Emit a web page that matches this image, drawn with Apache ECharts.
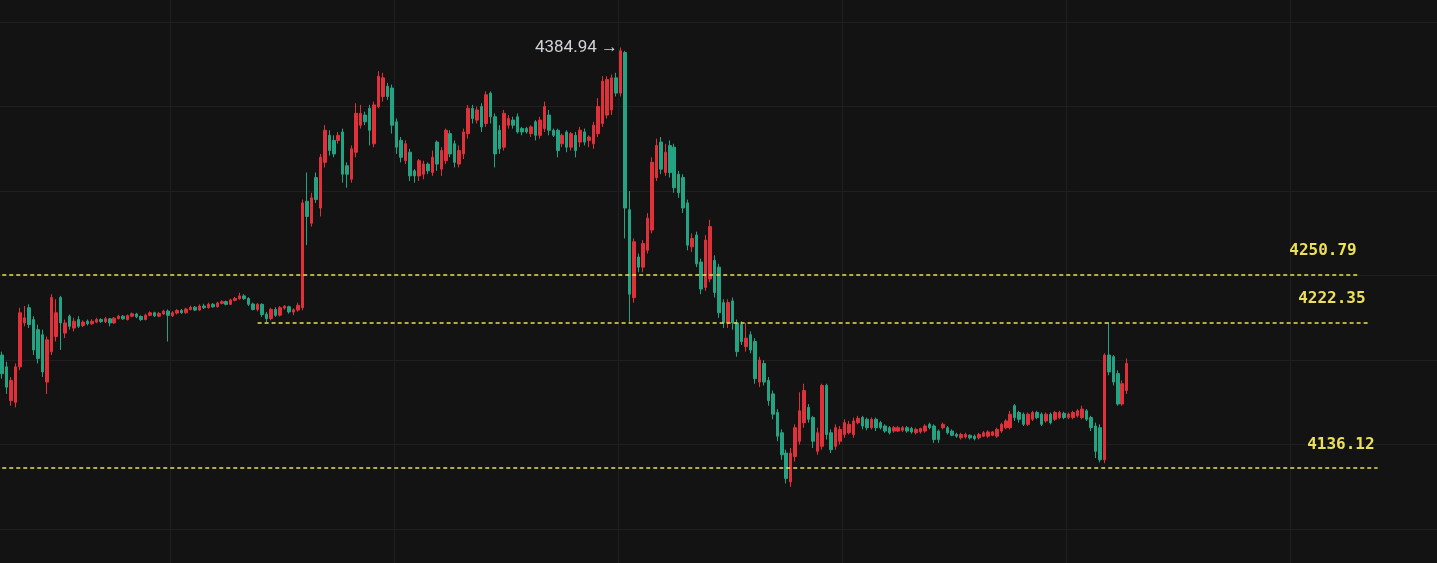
<!DOCTYPE html>
<html>
<head>
<meta charset="utf-8">
<style>
  html, body { margin: 0; padding: 0; background: #131313; }
  #chart { width: 1437px; height: 563px; }
</style>
<script src="https://cdn.jsdelivr.net/npm/echarts@6/dist/echarts.min.js"></script>
</head>
<body>
<div id="chart"></div>
<script>
// candles as [open, close, low, high]
const earlyChop = [
  [4203, 4192, 4189, 4205], [4196, 4184, 4180, 4199], [4176, 4188, 4173, 4190],
  [4175, 4196, 4172, 4198], [4196, 4228, 4194, 4231], [4222, 4225, 4220, 4232],
  [4231, 4221, 4219, 4233], [4224, 4206, 4203, 4226], [4218, 4201, 4198, 4221],
  [4215, 4193, 4190, 4218], [4187, 4212, 4180, 4214], [4205, 4237, 4203, 4239],
  [4214, 4228, 4211, 4236], [4237, 4222, 4206, 4238], [4216, 4222, 4213, 4224],
  [4226, 4220, 4218, 4227], [4219, 4223, 4217, 4225], [4224, 4220, 4219, 4226]
];
const drift = [
  [4220.5, 4222.5, 4219.5, 4223.5], [4223, 4221.5, 4220.5, 4224], [4221.5, 4223, 4220.8, 4224.2],
  [4222.5, 4224, 4221.8, 4225], [4224, 4222.8, 4222, 4224.8], [4222.6, 4224.5, 4222, 4225.6],
  [4224.4, 4222, 4220, 4225], [4222, 4224.8, 4221.5, 4225.5], [4224.6, 4226, 4224, 4226.8],
  [4226, 4224.4, 4223.8, 4226.6], [4224, 4226.3, 4223.4, 4227], [4226, 4227.4, 4225.4, 4228.2],
  [4227.3, 4225.6, 4224.8, 4228], [4225.8, 4224, 4223, 4226.5], [4224, 4226.6, 4223.5, 4227.5],
  [4226.5, 4228, 4226, 4228.8], [4228, 4226.2, 4225.5, 4228.6], [4226, 4227.6, 4225.4, 4228.5],
  [4227.3, 4229, 4226.7, 4229.8], [4229, 4226.5, 4211, 4230], [4226.2, 4228, 4225.5, 4229],
  [4227.8, 4229.4, 4227, 4230.2], [4229.4, 4228, 4227.4, 4230.3], [4228, 4230.2, 4227.5, 4231],
  [4230, 4231.2, 4229.4, 4232.2], [4231.3, 4229.6, 4229, 4232], [4229.6, 4232, 4229, 4233],
  [4232, 4231, 4230.2, 4233.3], [4231, 4233, 4230.4, 4234], [4233, 4231.5, 4231, 4233.8],
  [4231.6, 4233.8, 4231, 4234.5], [4233.6, 4234.6, 4233, 4235.4], [4234.6, 4233, 4232.4, 4235.2],
  [4233, 4235.6, 4232.6, 4236.3], [4235.4, 4236.5, 4234.8, 4237.4], [4236.3, 4238, 4235.8, 4239.8],
  [4238, 4236.4, 4235.6, 4239], [4236.5, 4233, 4232, 4237.2], [4233.2, 4230, 4229.4, 4234],
  [4230, 4233, 4228.8, 4233.8], [4233, 4227, 4225.5, 4233.6], [4227.2, 4224.5, 4222.4, 4228.5],
  [4224.6, 4230, 4223.5, 4231], [4230, 4226.5, 4225.6, 4231.2], [4226.6, 4231, 4225.8, 4232],
  [4230.8, 4231.8, 4229.8, 4232.6], [4231.6, 4228.5, 4227.5, 4232.2], [4228.4, 4229.8, 4226.6, 4230.6],
  [4229.6, 4232.4, 4228.7, 4234]
];
const rally = [
  [4231, 4293, 4229.5, 4295], [4294, 4285, 4268, 4311], [4281, 4296, 4279, 4299],
  [4308, 4295, 4293, 4311], [4290, 4320, 4285, 4322], [4317, 4336, 4314, 4339],
  [4333, 4324, 4321, 4336], [4330, 4322, 4320, 4333], [4330, 4333, 4328, 4335],
  [4335, 4310, 4305, 4337], [4315, 4310, 4302, 4317], [4307, 4325, 4305, 4327],
  [4323, 4346, 4320, 4352], [4339, 4346, 4337, 4351], [4345, 4341, 4339, 4347],
  [4349, 4336, 4327, 4351], [4328, 4351, 4326, 4353], [4350, 4368, 4349, 4371],
  [4356, 4367, 4353, 4370], [4362, 4356, 4354, 4364], [4361, 4339, 4334, 4363]
];
const plateau = [
  [4341, 4326, 4322, 4343], [4330, 4320, 4317, 4332], [4318, 4328, 4316, 4330],
  [4323, 4309, 4306, 4325], [4312, 4309, 4305, 4313], [4309, 4318, 4306, 4319],
  [4310, 4316, 4307, 4318], [4316, 4312, 4310, 4317], [4311, 4320, 4309, 4324],
  [4329, 4316, 4312, 4330], [4313, 4324, 4309, 4326], [4318, 4336, 4316, 4337],
  [4334, 4322, 4320, 4336], [4328, 4317, 4314, 4330], [4316, 4324, 4314, 4327],
  [4322, 4335, 4319, 4337], [4334, 4349, 4331, 4351], [4349, 4343, 4340, 4351],
  [4342, 4348, 4340, 4350], [4350, 4338, 4335, 4352], [4340, 4357, 4338, 4359],
  [4358, 4344, 4340, 4359], [4344, 4322, 4314, 4346], [4336, 4325, 4322, 4339],
  [4326, 4346, 4324, 4348], [4339, 4343, 4337, 4345], [4342, 4339, 4337, 4344],
  [4344, 4335, 4334, 4346], [4337, 4335, 4333, 4338], [4337, 4335, 4334, 4338],
  [4334, 4338, 4332, 4339], [4341, 4333, 4330, 4342], [4333, 4342, 4331, 4344],
  [4337, 4350, 4335, 4353], [4345, 4336, 4333, 4348], [4336, 4333, 4332, 4337],
  [4336, 4324, 4320, 4337], [4328, 4333, 4326, 4334], [4335, 4326, 4323, 4336],
  [4326, 4334, 4324, 4335], [4333, 4324, 4320, 4335], [4329, 4336, 4326, 4338],
  [4335, 4329, 4327, 4337], [4330, 4332, 4326, 4333], [4328, 4339, 4325, 4341],
  [4334, 4350, 4332, 4355], [4340, 4365, 4338, 4368], [4345, 4366, 4343, 4368],
  [4348, 4367, 4345, 4369], [4367, 4358, 4356, 4370], [4358, 4383, 4356, 4384.94]
];
const selloff = [
  [4382, 4290, 4272, 4383], [4289, 4239, 4222.35, 4300], [4237, 4270, 4234, 4272],
  [4261, 4255, 4252, 4263], [4255, 4269, 4252, 4271], [4265, 4284, 4263, 4287],
  [4277, 4317, 4275, 4320], [4308, 4327, 4306, 4331], [4329, 4313, 4310, 4332],
  [4311, 4323, 4309, 4328], [4327, 4311, 4308, 4330], [4326, 4302, 4299, 4328],
  [4310, 4299, 4296, 4312], [4308, 4290, 4287, 4310], [4293, 4268, 4265, 4295],
  [4267, 4272, 4264, 4275], [4274, 4257, 4255, 4276], [4258, 4242, 4239, 4260],
  [4243, 4271, 4241, 4274], [4248, 4279, 4246, 4283], [4259, 4240, 4237, 4262],
  [4255, 4228, 4225, 4257], [4234, 4222, 4219, 4236], [4222, 4234, 4219, 4236],
  [4235, 4222, 4218, 4237], [4222, 4205, 4202, 4224], [4221, 4211, 4209, 4223],
  [4208, 4213, 4205, 4222], [4215, 4206, 4204, 4217], [4211, 4189, 4186, 4213],
  [4187, 4200, 4184, 4202], [4198, 4187, 4185, 4200], [4188, 4176, 4173, 4190],
  [4180, 4168, 4165, 4182], [4169, 4155, 4152, 4171], [4157, 4144, 4141, 4159],
  [4145, 4130, 4127, 4147], [4128, 4145, 4125, 4148], [4143, 4160, 4140, 4162],
  [4152, 4170, 4150, 4181], [4163, 4182, 4160, 4186], [4172, 4165, 4163, 4174],
  [4166, 4152, 4148, 4167], [4146, 4157, 4144, 4160], [4149, 4185, 4147, 4186],
  [4185, 4156, 4153, 4186], [4157, 4147, 4145, 4159], [4149, 4160, 4147, 4162],
  [4152, 4159, 4150, 4161]
];
const base = [
  [4156, 4163, 4154, 4165], [4157, 4162, 4156, 4164], [4156, 4164, 4154, 4166],
  [4163, 4165.5, 4162, 4167], [4166, 4161, 4159, 4167], [4165, 4160, 4158.5, 4166],
  [4160, 4165, 4159, 4166], [4165, 4160, 4158, 4166], [4163, 4160, 4159, 4164],
  [4161, 4158, 4157, 4162], [4160, 4157, 4156, 4161], [4158, 4160, 4157, 4161],
  [4158, 4160, 4157.5, 4161], [4158.5, 4160, 4157.5, 4161], [4160, 4158, 4157, 4161],
  [4159.5, 4157.5, 4156.5, 4160.5], [4157, 4159, 4156, 4160], [4157.5, 4159.5, 4156.5, 4160],
  [4158, 4161, 4157, 4162], [4162, 4160, 4159, 4163], [4161, 4153, 4151, 4162],
  [4158, 4153, 4151, 4159], [4160, 4162, 4159, 4163], [4160, 4157, 4156, 4161],
  [4158, 4155.5, 4155, 4159], [4156, 4155, 4154, 4157], [4154, 4156, 4153, 4157],
  [4154.5, 4156, 4153.5, 4157], [4155.5, 4154, 4153, 4156], [4155, 4153.5, 4152.5, 4156],
  [4154, 4156, 4153, 4157], [4155, 4157, 4154.5, 4158], [4155, 4157.5, 4154, 4158.5],
  [4155.5, 4157.5, 4155, 4158], [4155, 4159, 4154, 4160], [4158, 4162, 4157, 4163],
  [4160, 4164, 4159, 4165], [4160, 4168, 4159, 4170], [4173, 4166, 4164, 4174],
  [4169, 4165, 4163, 4170], [4168, 4162, 4161, 4169], [4162, 4168, 4161, 4169],
  [4165, 4169, 4164, 4170], [4169, 4166, 4165, 4170], [4168, 4162, 4161, 4169],
  [4164, 4168, 4163, 4169], [4168, 4163, 4162, 4169], [4165, 4169, 4164, 4170],
  [4166, 4169, 4165, 4170], [4168.5, 4166, 4165, 4169.5], [4166, 4168, 4165, 4169],
  [4166, 4169, 4165, 4170], [4167, 4170, 4166, 4171], [4166, 4171, 4165, 4173],
  [4170, 4165, 4164, 4171], [4166, 4160, 4158, 4167], [4161, 4146, 4142, 4163],
  [4160, 4141, 4139.5, 4162]
];
const rebound = [
  [4141, 4203, 4139, 4204], [4203, 4193, 4191, 4222.35], [4202, 4187, 4185, 4203],
  [4192, 4174, 4173, 4194], [4174, 4186, 4173, 4188], [4182, 4198, 4180, 4201]
];

const candles = [].concat(earlyChop, drift, rally, plateau, selloff, base, rebound);

// empty slots on the right are part of the time axis
const slotCount = 321;
const slots = Array.from({ length: slotCount }, (_, i) => String(i));

const levels = [4250.79, 4222.35, 4136.12];
const levelFrom = [0, 57, 0];
const levelTo = [303, 305, 307];

let peakIdx = 0;
candles.forEach((c, i) => {
  if (c[3] > candles[peakIdx][3]) peakIdx = i;
});
const peak = candles[peakIdx][3];

const upColor = '#e0313b';
const downColor = '#24a382';
const levelColor = '#ece05a';

const chart = echarts.init(document.getElementById('chart'));
chart.setOption({
  backgroundColor: '#131313',
  animation: false,
  grid: {
    left: 0,
    top: -62.4,
    width: 1438.08,
    height: 676,
    outerBoundsMode: 'none',
    containLabel: false
  },
  xAxis: {
    type: 'category',
    data: slots,
    boundaryGap: true,
    axisLine: { show: false },
    axisTick: { show: false },
    axisLabel: { show: false },
    splitLine: {
      show: true,
      interval: (idx) => idx % 50 === 38,
      lineStyle: { color: '#1f1f1f', width: 1 }
    }
  },
  yAxis: {
    type: 'value',
    min: 4050,
    max: 4450,
    interval: 50,
    axisLine: { show: false },
    axisTick: { show: false },
    axisLabel: { show: false },
    splitLine: { show: true, lineStyle: { color: '#1f1f1f', width: 1 } }
  },
  series: [{
    type: 'candlestick',
    data: candles,
    barWidth: 3,
    itemStyle: {
      color: upColor,
      color0: downColor,
      borderColor: upColor,
      borderColor0: downColor,
      borderColorDoji: upColor,
      borderWidth: 1
    },
    emphasis: { disabled: true },
    markLine: {
      silent: true,
      symbol: ['none', 'none'],
      lineStyle: { color: levelColor, type: [4, 3], width: 1.5 },
      label: {
        show: true,
        position: 'insideEndTop',
        distance: [3, 15],
        formatter: '{b}',
        color: levelColor,
        fontFamily: 'DejaVu Sans Mono',
        fontWeight: 'bold',
        fontSize: 16
      },
      emphasis: { disabled: true },
      data: levels.map((v, i) => [
        { name: v.toFixed(2), coord: [levelFrom[i], v] },
        { coord: [levelTo[i], v] }
      ])
    },
    markPoint: {
      silent: true,
      symbol: 'circle',
      symbolSize: 1,
      itemStyle: { color: 'rgba(0,0,0,0)' },
      label: {
        show: true,
        position: 'left',
        distance: 2,
        formatter: peak.toFixed(2) + ' \u2192',
        color: '#cfd2d8',
        fontFamily: 'Roboto',
        fontSize: 17
      },
      data: [{ coord: [peakIdx, peak] }]
    }
  }]
});
</script>
</body>
</html>
